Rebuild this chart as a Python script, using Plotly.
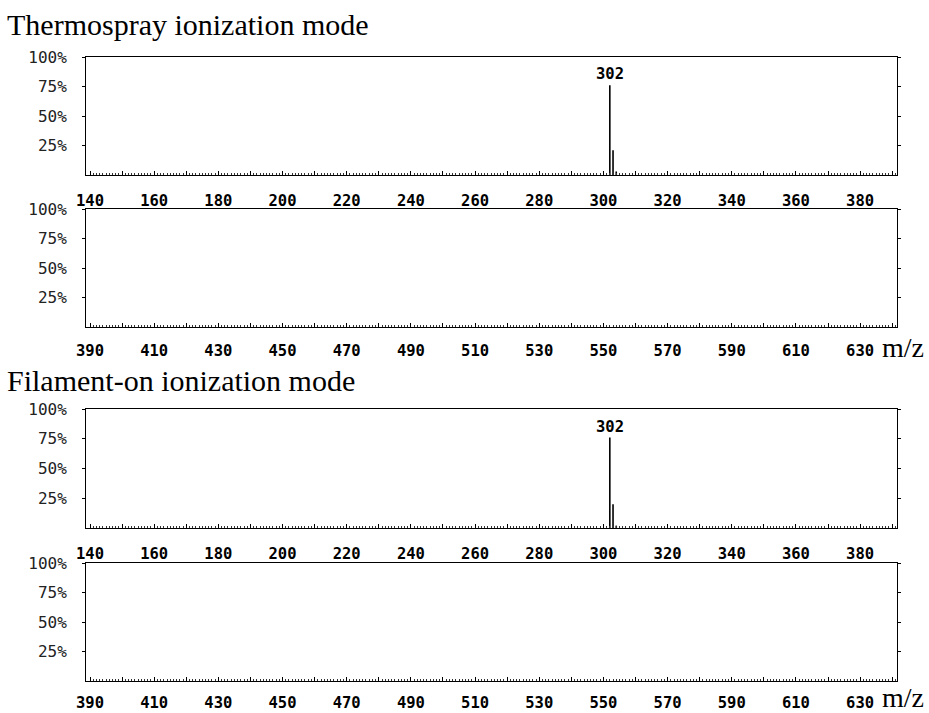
import plotly.graph_objects as go

W, H = 929, 713

# ---------------- data ----------------
titles = ["Thermospray ionization mode", "Filament-on ionization mode"]
low_range = [138.75, 391.5]
high_range = [388.75, 641.5]
low_labels = [140, 160, 180, 200, 220, 240, 260, 280, 300, 320, 340, 360, 380]
high_labels = [390, 410, 430, 450, 470, 490, 510, 530, 550, 570, 590, 610, 630]
y_ticks = [25, 50, 75, 100]
y_ticktext = ["25%", "50%", "75%", "100%"]

# Thermospray spectrum (m/z, relative intensity %)
thermo_mz = [302, 303, 304]
thermo_int = [76, 21, 3]
# Filament-on spectrum
fil_mz = [302, 303, 304]
fil_int = [76, 20, 2]
# upper mass range (390-640): no significant peaks
thermo_hi_mz, thermo_hi_int = [], []
fil_hi_mz, fil_hi_int = [], []
base_peak = 302

# ---------------- layout helpers ----------------
PX_L, PX_R = 86, 897
panels = [  # (top px, bottom px, x-label standoff)
    (57, 175, 11),
    (209, 327, 9),
    (409, 528, 11),
    (563, 681, 7),
]


def ydom(top, bot):
    return [1 - bot / H, 1 - top / H]


def sticks(mz, inten):
    xs, ys = [], []
    for m, i in zip(mz, inten):
        xs += [m, m, None]
        ys += [0, i, None]
    return xs, ys


fig = go.Figure()

spectra = [
    (thermo_mz, thermo_int, low_range, low_labels),
    (thermo_hi_mz, thermo_hi_int, high_range, high_labels),
    (fil_mz, fil_int, low_range, low_labels),
    (fil_hi_mz, fil_hi_int, high_range, high_labels),
]

tickfont = dict(family="DejaVu Sans Mono", size=15.5, color="black", weight="bold")
yfont = dict(family="DejaVu Sans Mono", size=16, color="#222")

for k, ((mz, inten, rng, labels), (top, bot, so)) in enumerate(zip(spectra, panels)):
    n = "" if k == 0 else str(k + 1)
    xs, ys = sticks(mz, inten)
    fig.add_trace(go.Scatter(x=xs, y=ys, mode="lines",
                             line=dict(color="black", width=1.6),
                             xaxis="x" + n, yaxis="y" + n,
                             showlegend=False, hoverinfo="skip"))
    start = labels[0]
    tv = list(range(start, int(rng[1]) + 1, 10))
    tt = [str(v) if v in labels else "" for v in tv]
    fig.layout["xaxis" + n] = dict(
        domain=[PX_L / W, PX_R / W], range=rng, anchor="y" + n,
        automargin=False,
        showline=True, linecolor="black", linewidth=1, mirror=True,
        ticks="inside", ticklen=4, tickwidth=1, tickcolor="black",
        tickvals=tv, ticktext=tt, tickfont=tickfont,
        ticklabelstandoff=so,
        minor=dict(dtick=1, tick0=0, ticks="inside", ticklen=2,
                   tickwidth=1, tickcolor="#333"),
        showgrid=False, zeroline=False, fixedrange=True)
    fig.layout["yaxis" + n] = dict(
        domain=ydom(top, bot), range=[0, 100], anchor="x" + n,
        automargin=False,
        showline=True, linecolor="black", linewidth=1, mirror="ticks",
        ticks="outside", ticklen=3, tickwidth=1, tickcolor="black",
        tickvals=y_ticks, ticktext=y_ticktext, tickfont=yfont,
        ticklabelstandoff=12,
        showgrid=False, zeroline=False, fixedrange=True)

    # label of the base peak
    for m, i in zip(mz, inten):
        if m == base_peak:
            fig.add_annotation(x=m, y=i, xref="x" + n, yref="y" + n,
                               text=str(m), showarrow=False,
                               yanchor="bottom", yshift=0,
                               font=dict(family="DejaVu Sans Mono", size=15.5,
                                         color="black", weight="bold"))

# titles
title_y = [24, 380]
for t, ty in zip(titles, title_y):
    fig.add_annotation(x=6 / W, y=1 - ty / H, xref="paper", yref="paper",
                       text=t, showarrow=False, xanchor="left",
                       yanchor="middle", borderpad=0,
                       font=dict(family="Liberation Serif", size=30,
                                 color="black"))

# m/z labels on the upper-mass panels
for by in [347, 697]:
    fig.add_annotation(x=881 / W, y=1 - by / H, xref="paper", yref="paper",
                       text="m/z", showarrow=False, xanchor="left",
                       yanchor="middle", borderpad=0,
                       font=dict(family="Liberation Serif", size=28,
                                 color="black"))

fig.update_layout(width=W, height=H, margin=dict(l=0, r=0, t=0, b=0, autoexpand=False),
                  paper_bgcolor="white", plot_bgcolor="white",
                  showlegend=False)

fig.write_html("out.html",
               post_script="document.body.style.margin='0';"
                           "document.body.style.padding='0';")
